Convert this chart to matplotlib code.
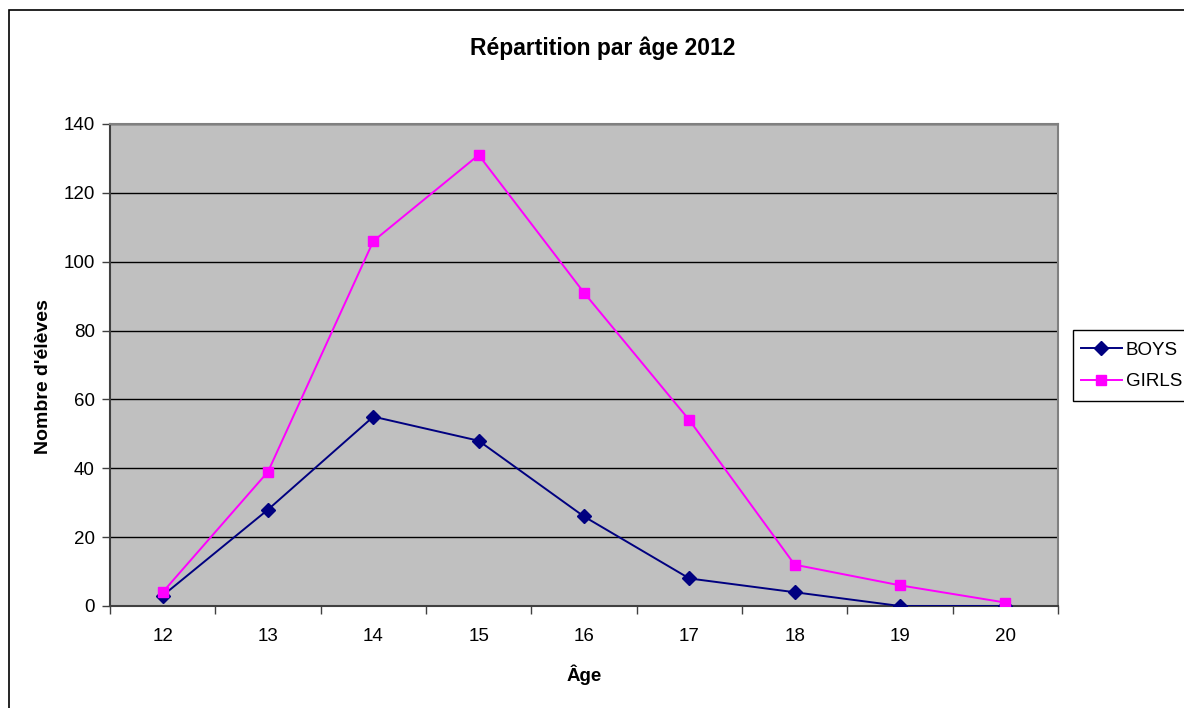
import matplotlib.pyplot as plt
from matplotlib.patches import Rectangle
from matplotlib.lines import Line2D
import numpy as np

plt.rcParams['font.family'] = ['Liberation Sans', 'DejaVu Sans']

ages = ['12', '13', '14', '15', '16', '17', '18', '19', '20']
boys = [3, 28, 55, 48, 26, 8, 4, 0, 0]
girls = [4, 39, 106, 131, 91, 54, 12, 6, 1]

W, H = 1184, 708
fig = plt.figure(figsize=(W / 100, H / 100), dpi=100)

# outer chart border (runs off the right and bottom edges)
fig.patches.append(Rectangle((9 / W, -0.05), 1.2, 1 - 10 / H + 0.05,
                             transform=fig.transFigure, fill=False,
                             edgecolor='black', linewidth=1.2))

ax = fig.add_axes([110 / W, 1 - 606 / H, (1058 - 110) / W, (606 - 124) / H])
ax.set_facecolor('#c0c0c0')

x = np.arange(len(ages))
ax.plot(x, boys, color='#000080', marker='D', markersize=7, linewidth=1.4,
        label='BOYS', zorder=3)
ax.plot(x, girls, color='#ff00ff', marker='s', markersize=7, linewidth=1.4,
        label='GIRLS', zorder=3)

ax.set_xlim(-0.5, len(ages) - 0.5)
ax.set_ylim(0, 140)
ax.set_yticks(np.arange(0, 141, 20))
ax.yaxis.grid(True, color='black', linewidth=1.0)
ax.set_axisbelow(True)

ax.set_xticks(x)
ax.set_xticklabels(ages)
ax.set_xticks(np.arange(-0.5, len(ages), 1), minor=True)
ax.tick_params(axis='x', which='major', length=0, pad=16, labelsize=13.5)
ax.tick_params(axis='x', which='minor', length=6, width=1, color='#404040',
               direction='out')
ax.tick_params(axis='y', length=6, width=1, color='#404040', direction='out',
               labelsize=13.5, pad=5)

for side in ['top', 'right']:
    ax.spines[side].set_color('#808080')
    ax.spines[side].set_linewidth(1.5)
for side in ['left', 'bottom']:
    ax.spines[side].set_color('#404040')
    ax.spines[side].set_linewidth(1.5)

ax.set_xlabel('Âge', fontsize=13.5, fontweight='bold', labelpad=14)
ax.set_ylabel("Nombre d'élèves", fontsize=14, fontweight='bold')
ax.yaxis.set_label_coords((52 - 110) / 948, (606 - 377) / 482)
fig.text(603 / W, 1 - 48 / H, 'Répartition par âge 2012', ha='center',
         va='center', fontsize=16.5, fontweight='bold')

# legend box
fig.patches.append(Rectangle((1073 / W, 1 - 401 / H), 0.2, 71 / H,
                             transform=fig.transFigure, facecolor='white',
                             edgecolor='black', linewidth=1.0))
handles = [Line2D([], [], color='#000080', marker='D', markersize=7, linewidth=1.4),
           Line2D([], [], color='#ff00ff', marker='s', markersize=7, linewidth=1.4)]
fig.legend(handles, ['BOYS', 'GIRLS'], loc='center left',
           bbox_to_anchor=(1077 / W, 1 - 366 / H), frameon=False,
           fontsize=13.5, handlelength=2.2, handletextpad=0.2,
           labelspacing=0.75, borderpad=0.2, borderaxespad=0)

fig.savefig('out.png', dpi=100)
